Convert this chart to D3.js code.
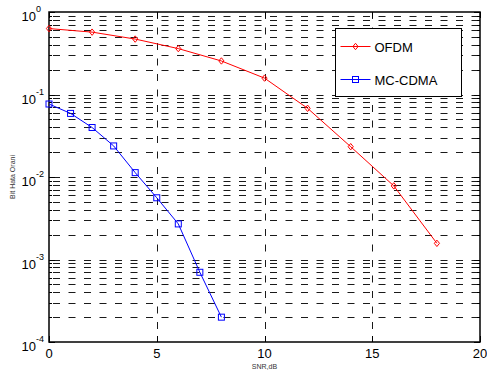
<!DOCTYPE html>
<html>
<head>
<meta charset="utf-8">
<script src="https://cdn.jsdelivr.net/npm/d3@7"></script>
<style>
  body { margin: 0; background: #fff; }
  text { font-family: "Liberation Sans", Arial, sans-serif; }
</style>
</head>
<body>
<div id="chart"></div>
<script>
const ofdmSnr = [0, 2, 4, 6, 8, 10, 12, 14, 16, 18]
const ofdmBer = [0.63, 0.57, 0.47, 0.36, 0.255, 0.158, 0.068, 0.0233, 0.0078, 0.00157]
const mcSnr = [0, 1, 2, 3, 4, 5, 6, 7, 8]
const mcBer = [0.0767, 0.059, 0.0398, 0.0238, 0.0113, 0.0056, 0.0027, 0.0007, 0.0002]
const xTicks = [0, 5, 10, 15, 20]
const yExps = [0, -1, -2, -3, -4]
const seriesNames = ['OFDM', 'MC-CDMA']

const width = 487
const height = 376
const margin = { top: 12, right: 7, bottom: 34, left: 49 }

const svg = d3.select('#chart')
  .append('svg')
  .attr('width', width)
  .attr('height', height)

const xScale = d3.scaleLinear()
  .domain([0, 20])
  .range([margin.left, width - margin.right])

const yScale = d3.scaleLog()
  .domain([1e-4, 1])
  .range([height - margin.bottom, margin.top])

// grid: minor + major y, major x
const yGrid = []
for (let e = -4; e < 0; e++) {
  for (let m = 1; m <= 9; m++) yGrid.push(m * Math.pow(10, e))
}
const grid = svg.append('g').attr('stroke', '#000').attr('stroke-width', 0.9)
  .attr('stroke-dasharray', '7,8.5')

grid.selectAll('.hg')
  .data(yGrid.filter((v) => v > 1e-4))
  .join('line')
  .attr('x1', xScale(0) + 4)
  .attr('x2', xScale(20))
  .attr('y1', (d) => Math.round(yScale(d)) + 0.5)
  .attr('y2', (d) => Math.round(yScale(d)) + 0.5)

grid.selectAll('.vg')
  .data([5, 10, 15])
  .join('line')
  .attr('x1', (d) => Math.round(xScale(d)) + 0.5)
  .attr('x2', (d) => Math.round(xScale(d)) + 0.5)
  .attr('y1', yScale(1))
  .attr('y2', yScale(1e-4))

// axes box
const x0 = xScale(0), x1 = xScale(20), y0 = yScale(1e-4), y1 = yScale(1)
svg.append('rect')
  .attr('x', x0).attr('y', y1)
  .attr('width', x1 - x0).attr('height', y0 - y1)
  .attr('fill', 'none').attr('stroke', '#000').attr('stroke-width', 1.5)

// tick marks
const ticks = svg.append('g').attr('stroke', '#000').attr('stroke-width', 1)
yGrid.concat([1]).forEach((v) => {
  const yy = Math.round(yScale(v)) + 0.5
  const len = Math.abs(Math.log10(v) - Math.round(Math.log10(v))) < 1e-9 ? 6 : 3
  ticks.append('line').attr('x1', x0).attr('x2', x0 + len).attr('y1', yy).attr('y2', yy)
  ticks.append('line').attr('x1', x1).attr('x2', x1 - len).attr('y1', yy).attr('y2', yy)
})
xTicks.forEach((v) => {
  const xx = Math.round(xScale(v)) + 0.5
  ticks.append('line').attr('x1', xx).attr('x2', xx).attr('y1', y0).attr('y2', y0 - 6)
  ticks.append('line').attr('x1', xx).attr('x2', xx).attr('y1', y1).attr('y2', y1 + 6)
})

// tick labels
svg.append('g').selectAll('text')
  .data(xTicks)
  .join('text')
  .attr('x', (d) => xScale(d))
  .attr('y', y0 + 16)
  .attr('text-anchor', 'middle')
  .attr('font-size', 13)
  .text((d) => d)

const yLab = svg.append('g').selectAll('g')
  .data(yExps)
  .join('g')
  .attr('transform', (d) => `translate(${x0 - 13}, ${yScale(Math.pow(10, d)) + 9})`)
yLab.append('text')
  .attr('text-anchor', 'end')
  .attr('font-size', 13)
  .text('10')
yLab.append('text')
  .attr('x', 0)
  .attr('y', -9)
  .attr('font-size', 9)
  .text((d) => d)

// axis titles
svg.append('text')
  .attr('x', (x0 + x1) / 2)
  .attr('y', 369)
  .attr('text-anchor', 'middle')
  .attr('font-size', 7)
  .attr('fill', '#333')
  .text('SNR,dB')

svg.append('text')
  .attr('transform', `translate(15, ${(y0 + y1) / 2}) rotate(-90)`)
  .attr('text-anchor', 'middle')
  .attr('font-size', 7)
  .attr('fill', '#333')
  .text('Bit Hata Orani')

// lines
const line = d3.line()
  .x((d) => xScale(d[0]))
  .y((d) => yScale(d[1]))

const ofdm = ofdmSnr.map((s, i) => [s, ofdmBer[i]])
const mc = mcSnr.map((s, i) => [s, mcBer[i]])

svg.append('path').attr('d', line(ofdm))
  .attr('fill', 'none').attr('stroke', '#f00').attr('stroke-width', 1)
svg.append('path').attr('d', line(mc))
  .attr('fill', 'none').attr('stroke', '#00f').attr('stroke-width', 1)

const diamond = 'M0,-3.2L2.6,0L0,3.2L-2.6,0Z'
svg.append('g').selectAll('path')
  .data(ofdm)
  .join('path')
  .attr('transform', (d) => `translate(${xScale(d[0])},${yScale(d[1])})`)
  .attr('d', diamond)
  .attr('fill', 'none').attr('stroke', '#f00').attr('stroke-width', 1)

svg.append('g').selectAll('rect')
  .data(mc)
  .join('rect')
  .attr('x', (d) => xScale(d[0]) - 3)
  .attr('y', (d) => yScale(d[1]) - 3)
  .attr('width', 6).attr('height', 6)
  .attr('fill', 'none').attr('stroke', '#00f').attr('stroke-width', 1)

// legend
const legend = svg.append('g').attr('transform', 'translate(335.5, 28.5)')
legend.append('rect')
  .attr('width', 126).attr('height', 68)
  .attr('fill', '#fff').attr('stroke', '#000').attr('stroke-width', 1)

const legColors = ['#f00', '#00f']
seriesNames.forEach((name, i) => {
  const ly = 18 + i * 33
  legend.append('line')
    .attr('x1', 5).attr('x2', 35).attr('y1', ly).attr('y2', ly)
    .attr('stroke', legColors[i]).attr('stroke-width', 1)
  if (i === 0) {
    legend.append('path').attr('transform', `translate(20,${ly})`).attr('d', diamond)
      .attr('fill', 'none').attr('stroke', legColors[i])
  } else {
    legend.append('rect').attr('x', 17).attr('y', ly - 3).attr('width', 6).attr('height', 6)
      .attr('fill', 'none').attr('stroke', legColors[i])
  }
  legend.append('text')
    .attr('x', 39).attr('y', ly + 5)
    .attr('font-size', 13)
    .text(name)
})
</script>
</body>
</html>
